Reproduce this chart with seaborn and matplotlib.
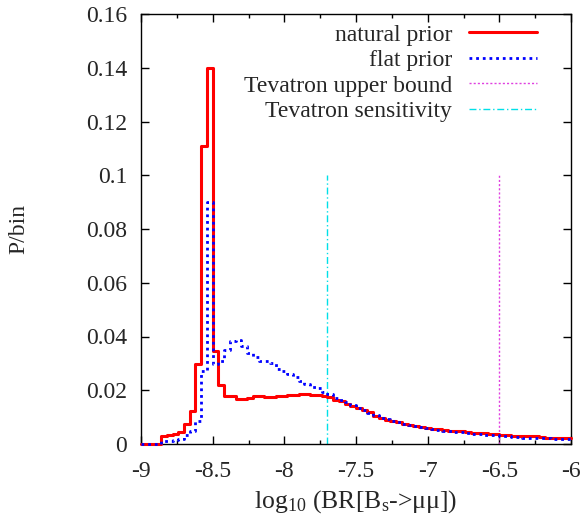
import numpy as np
import pandas as pd
import matplotlib
matplotlib.use("Agg")
import matplotlib.pyplot as plt
import seaborn as sns
from matplotlib.ticker import MultipleLocator, FuncFormatter

# ---- data ----
bin_centers = np.round(np.linspace(-9.0, -6.0, 76), 2)

natural_prior = [
    0.0, 0.0, 0.0, 0.0, 0.0031, 0.0033, 0.0037, 0.0043, 0.0074, 0.0121,
    0.0297, 0.111, 0.140, 0.0347, 0.0220, 0.0180, 0.0180, 0.0167, 0.0168, 0.0173,
    0.0180, 0.0177, 0.0176, 0.0176, 0.0180, 0.0180, 0.0183, 0.0183, 0.0186, 0.0186,
    0.0184, 0.0184, 0.0177, 0.0175, 0.0162, 0.0160, 0.0150, 0.0140, 0.0133, 0.0125,
    0.0118, 0.0105, 0.0095, 0.0089, 0.0085, 0.0083, 0.0076, 0.0072, 0.0066, 0.0063,
    0.0060, 0.0057, 0.0056, 0.0053, 0.0050, 0.0049, 0.0047, 0.0045, 0.0042, 0.0040,
    0.0040, 0.0038, 0.0036, 0.0035, 0.0033, 0.0030, 0.0029, 0.0029, 0.0028, 0.0028,
    0.0027, 0.0024, 0.0023, 0.0022, 0.0022, 0.0021,
]

flat_prior = [
    0.0, 0.0, 0.0, 0.0, 0.0013, 0.0013, 0.0014, 0.0020, 0.0032, 0.0048,
    0.0085, 0.027, 0.090, 0.0297, 0.031, 0.035, 0.0385, 0.0387, 0.0365, 0.034,
    0.0325, 0.031, 0.0307, 0.0303, 0.028, 0.027, 0.026, 0.025, 0.0236, 0.0222,
    0.0212, 0.0210, 0.0195, 0.0185, 0.0170, 0.0162, 0.0155, 0.0145, 0.0135, 0.0128,
    0.0117, 0.0108, 0.0098, 0.0092, 0.0087, 0.0082, 0.0076, 0.0071, 0.0066, 0.0062,
    0.0058, 0.0055, 0.0053, 0.0050, 0.0047, 0.0045, 0.0043, 0.0040, 0.0038, 0.0036,
    0.0035, 0.0034, 0.0032, 0.0030, 0.0028, 0.0026, 0.0025, 0.0023, 0.0022, 0.0022,
    0.0021, 0.0021, 0.0020, 0.0020, 0.0019, 0.0019,
]

tevatron_upper_bound = -6.5
tevatron_sensitivity = -7.7
vline_top = 0.1

labels = ["natural prior", "flat prior", "Tevatron upper bound", "Tevatron sensitivity"]
x_ticks = [-9, -8.5, -8, -7.5, -7, -6.5, -6]
y_ticks = [0, 0.02, 0.04, 0.06, 0.08, 0.1, 0.12, 0.14, 0.16]

# ---- style ----
sns.set_theme(style="ticks")
plt.rcParams["font.family"] = ["Liberation Serif", "DejaVu Serif"]
plt.rcParams["mathtext.fontset"] = "custom"
plt.rcParams["mathtext.rm"] = "Liberation Serif"
plt.rcParams["mathtext.it"] = "Liberation Serif:italic"
plt.rcParams["axes.unicode_minus"] = False

FS = 17

fig = plt.figure(figsize=(5.84, 5.23), dpi=100)
ax = fig.add_axes([141 / 584, 79 / 523, 430 / 584, 430 / 523])

df = pd.DataFrame({"x": bin_centers, "natural": natural_prior, "flat": flat_prior})

sns.lineplot(data=df, x="x", y="natural", ax=ax, color="#ff0000", lw=2.2,
             drawstyle="steps-mid", label=labels[0], zorder=3, clip_on=False)
sns.lineplot(data=df, x="x", y="flat", ax=ax, color="#0000ff", lw=2.0,
             drawstyle="steps-mid", label=labels[1], zorder=4, clip_on=False,
             dashes=False, linestyle=(0, (1, 1.4)))

ax.plot([tevatron_upper_bound, tevatron_upper_bound], [0, vline_top],
        color="#e040e0", lw=1.0, linestyle=(0, (1.5, 1.5)), label=labels[2])
ax.plot([tevatron_sensitivity, tevatron_sensitivity], [0, vline_top],
        color="#00e0e8", lw=1.0, linestyle=(0, (5, 2, 1, 2)), label=labels[3])

ax.set_xlim(-9, -6)
ax.set_ylim(0, 0.16)
ax.set_xticks(x_ticks)
ax.set_yticks(y_ticks)
ax.xaxis.set_minor_locator(MultipleLocator(0.25))
ax.xaxis.set_major_formatter(FuncFormatter(lambda v, p: f"{v:g}"))
ax.yaxis.set_major_formatter(FuncFormatter(lambda v, p: f"{v:g}"))

ax.tick_params(axis="both", which="both", direction="in", top=True, right=True,
               labelsize=FS, color="black", width=1.0)
ax.tick_params(axis="both", which="major", length=6)
ax.tick_params(axis="both", which="minor", length=3)
ax.tick_params(axis="x", which="major", pad=12)
ax.tick_params(axis="y", which="major", pad=10)
for s in ax.spines.values():
    s.set_color("black")
    s.set_linewidth(1.0)

ax.set_xlabel(r"log$_{\mathrm{10}}$ (BR[B$_{\mathrm{s}}$->μμ])", fontsize=18.5, labelpad=5)
ax.set_ylabel("P/bin", fontsize=FS, labelpad=41)

leg = ax.legend(loc="upper right", frameon=False, fontsize=FS, markerfirst=False,
                handlelength=2.9, handletextpad=0.7, labelspacing=0.17,
                borderaxespad=0.3, bbox_to_anchor=(0.96, 1.015))

fig.savefig("out.png", dpi=100)
